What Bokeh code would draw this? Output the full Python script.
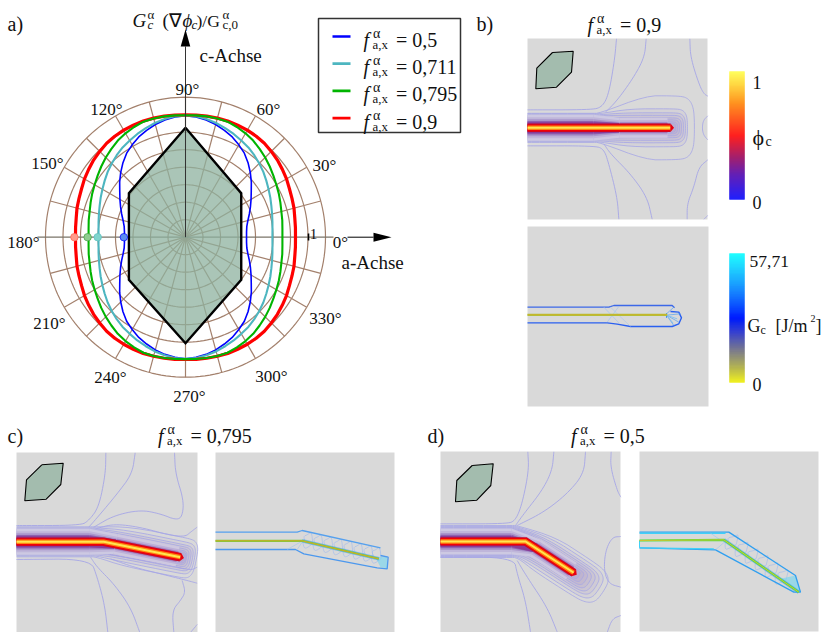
from bokeh.plotting import figure
from bokeh.embed import file_html
from bokeh.resources import INLINE
from bokeh.core.properties import value
from bokeh.models import Range1d
import numpy as np

# ---------- data ----------
angles_deg = [0,5,10,15,20,25,30,35,40,45,50,55,60,65,70,75,80,85,90]
r_05   = [.495,.497,.505,.524,.551,.581,.614,.651,.697,.743,.789,.832,.865,.897,.922,.946,.965,.978,.986]
r_0711 = [.705,.708,.716,.727,.741,.759,.778,.800,.824,.846,.868,.889,.905,.924,.941,.959,.973,.984,.986]
r_0795 = [.786,.789,.797,.805,.819,.835,.851,.870,.892,.914,.935,.957,.973,.986,.997,.997,.995,.992,.989]
r_09   = [.892,.895,.900,.911,.919,.930,.946,.959,.973,.984,.995,1.0,1.003,1.003,1.003,1.0,.997,.995,.992]
hex_x = [0,.452,.452,0,-.459,-.459]
hex_y = [.887,.357,-.345,-.86,-.345,.357]
legend_vals = ["= 0,5","= 0,711","= 0,795","= 0,9"]
angle_labels = [("90°",187,89),("120°",106,109),("60°",268,109),("150°",47,163),("30°",324,165),
                ("180°",23,242),("0°",340,242),("210°",49,323),("330°",325,318),("240°",110,377),
                ("300°",271,376),("270°",189,396)]
thumb_b = [(552,52),(572.7,50.7),(571,71.7),(556,86.7),(535.3,88.3),(536.3,67.7)]
thumb_c = [(41.3,464.3),(62.7,462.7),(60.3,484),(45.7,498.7),(24.3,500.3),(26,479.3)]
thumb_d = [(471.7,465),(492.7,463.3),(490.3,485),(476.3,499.7),(455,501.3),(456.3,480)]
phi_stops = [(0,(0,0,255)),(.2,(80,0,170)),(.33,(150,0,90)),(.5,(255,0,0)),(.75,(255,130,0)),(.9,(255,210,40)),(1,(255,255,70))]
gc_stops = [(0,(240,240,0)),(.12,(170,170,60)),(.25,(110,110,130)),(.38,(50,60,200)),(.5,(0,30,255)),(.72,(0,130,255)),(1,(0,255,255))]

b_contours = [
 [(378,115),(372,180),(355,280),(335,320),(300,328),(111,328)],
 [(467,115),(462,170),(430,230),(380,300),(345,335)],
 [(598,115),(600,170),(625,250),(640,280),(652,287)],
 [(652,346),(638,360),(635,385),(640,405),(652,418)],
 [(385,656),(380,590),(355,490),(340,445),(310,436),(111,436)],
 [(485,656),(470,590),(420,520),(360,460),(340,430)],
 [(590,656),(590,610),(610,560),(625,500),(652,478)],
 [(640,656),(652,645)],
]
c_contours = [
 [(316,127),(315,190),(295,290),(265,330),(240,345),(48,345)],
 [(404,127),(395,190),(350,250),(300,310),(265,350)],
 [(522,127),(525,190),(550,270),(545,320),(525,328),(480,310),(420,298),(340,315),(280,350)],
 [(590,350),(570,365),(555,378),(510,375),(420,350),(340,340),(285,355)],
 [(322,666),(312,580),(290,500),(270,445),(48,447)],
 [(418,666),(390,590),(340,520),(290,470),(270,440)],
 [(590,518),(560,510),(480,490),(400,470),(330,445)],
 [(590,470),(570,480),(490,460),(400,445),(320,430)],
 [(520,666),(515,600),(540,570),(555,545),(545,510)],
 [(570,666),(590,642)],
]
d_contours = [
 [(322,124),(325,180),(305,280),(285,330),(260,340),(60,340)],
 [(400,124),(395,180),(365,240),(310,310),(285,345)],
 [(495,124),(490,190),(440,250),(370,305),(290,345)],
 [(572,124),(570,170),(590,240),(601,260)],
 [(601,378),(575,380),(555,420),(550,480),(565,520),(601,530)],
 [(601,615),(575,625),(560,666)],
 [(330,664),(315,570),(290,490),(280,440),(60,440)],
 [(410,664),(380,590),(320,500),(290,450)],
]
# crack paths: start, kink, tip
crack_b = [(527,127.3),(607,127.3),(670,127.3)]
crack_c = [(16,541.3),(103.3,541.3),(180,556.7)]
crack_d = [(440,541),(525,541),(573.3,572.3)]
# contour levels: half width left, half width right, extent past the tip
levels_b = [(14.5,32,24),(14,19,17),(13,15,15),(12,12.5,13),(11,10,11),(10,8,9),(9,6,7),(8,4.5,5)]
levels_c = [(15,20,16),(14,16,14),(13,13,12),(12,11,10),(11,9,8),(10,7,6),(9,5.5,5),(8,4,3.5)]
levels_d = [(16,20,35),(15,17,30),(14,14,26),(13,12,22),(12,10,18),(11,8,14),(10,6,10),(9,4.5,6)]

gc_b_lines = [
 ([(111,920),(355,920),(370,915),(545,915),(552,922)],"#3c68e8",1.3),
 ([(111,967),(350,967),(380,971),(420,978),(545,978),(565,970),(573,952),(565,935),(540,933)],"#2a60f0",1.4),
 ([(340,920),(385,967)],"#a6c4ee",.7),([(385,918),(350,965)],"#a6c4ee",.7),([(360,920),(420,978)],"#a6c4ee",.6),
 ([(528,940),(550,920)],"#55a0f0",.7),([(528,944),(570,940)],"#55a0f0",.7),([(528,944),(565,965)],"#55a0f0",.7),
 ([(528,944),(550,975)],"#55a0f0",.7),([(528,944),(560,955)],"#7fc0f0",.9),([(528,944),(548,968)],"#7fc0f0",.9),
 ([(528,938),(528,952)],"#4090f0",1.0),
]
gc_b_center = [(111,943),(530,943)]
gc_c_lines = [
 ([(645,365),(890,365),(905,360),(1140,412)],"#55a0ee",1.3),
 ([(645,417),(885,417),(910,430),(1130,472),(1160,475),(1163,440),(1140,435)],"#4c98ee",1.3),
 ([(890,417),(905,395)],"#9cc4ee",.6),([(860,417),(905,392)],"#9cc4ee",.6),
]
gc_c_center = [(645,391),(905,391),(1135,445)]
ripple_c = [(915,395),(945,402),(975,408),(1005,415),(1035,421),(1065,428),(1095,434),(1120,440)]
gc_d_lines = [
 ([(657,365),(925,365),(1125,495),(1140,545),(1120,545),(885,418),(657,412)],"#2f9ff0",1.3),
 ([(657,368),(915,368)],"#40d0f8",1.5),([(657,412),(880,415)],"#40d0f8",1.2),
 ([(657,390),(657,412)],"#40d0f8",1.0),
 ([(885,418),(915,392)],"#9cc4ee",.6),([(870,368),(905,392)],"#9cc4ee",.6),
]
gc_d_center = [(657,390),(910,388),(1135,545)]
gc_d_tip = [(1080,505),(1125,495),(1140,545),(1115,535)]
gc_c_tip = [(1125,440),(1160,438),(1160,473),(1140,470)]
ripple_d = [(925,398),(955,420),(985,440),(1015,460),(1045,482),(1075,503)]

RED="#ff0000"; GREEN="#00b400"; CYAN="#4db6c0"; BLUE="#0000ff"; BROWN="#a3806c"; FONT=value("Liberation Serif")

p = figure(width=829,height=632,x_range=Range1d(0,829),y_range=Range1d(632,0),
           output_backend="svg",toolbar_location=None,min_border=0)
p.axis.visible=False; p.grid.visible=False; p.outline_line_color=None; p.background_fill_color="white"

def T(x,y,s,size=19,style="normal",align="left"):
    p.text([x],[y],text=[s],text_font=FONT,text_font_size=f"{size}px",text_font_style=style,
           text_align=align,text_baseline="alphabetic",text_color="#111111")

# ---------- panel a ----------
CX,CY,UNIT=185,236.7,123.3
th=np.linspace(0,2*np.pi,181)
for k in range(1,9):
    rr=17.5*k
    p.line(CX+rr*np.cos(th),CY+rr*np.sin(th),line_color=BROWN,line_width=1.2)
for a in range(0,360,15):
    if a%180==0: continue
    t=np.radians(a)
    p.line([CX,CX+140*np.cos(t)],[CY,CY+140*np.sin(t)],line_color=BROWN,line_width=1.2)
p.line([37,333],[CY,CY],line_color="#7a7468",line_width=1.3)
hx=[CX+v*UNIT for v in hex_x]; hy=[CY-v*UNIT for v in hex_y]
p.patch(hx,hy,fill_color="#8eb29f",fill_alpha=.75,line_color=None)
p.line(hx+hx[:1],hy+hy[:1],line_color="black",line_width=2.4,line_join="miter")

def curve(r):
    a=np.array(angles_deg,float); r=np.array(r)
    A=np.concatenate([a,180-a[::-1],180+a,360-a[::-1]])
    R=np.concatenate([r,r[::-1],r,r[::-1]])
    t=np.radians(A)
    return CX+UNIT*R*np.cos(t), CY-UNIT*R*np.sin(t)
for r,c,w in [(r_05,BLUE,1.6),(r_0711,CYAN,2.1),(r_09,RED,3.2),(r_0795,GREEN,2.1)]:
    x,y=curve(r); p.line(x,y,line_color=c,line_width=w,line_join="round")
for r,c,f in [(r_05,BLUE,"#5c8cf0"),(r_0711,"#5bc0c0","#80d4cc"),(r_0795,"#40a040","#90cc90"),(r_09,"#ff6655","#ff9c8c")]:
    p.scatter([CX-UNIT*r[0]*1.01],[CY],size=7.5,fill_color=f,line_color=c,line_width=.7)
p.line([308,308],[233,240],line_color="black",line_width=1.6)
p.line([CX,CX],[CY,46],line_color="#333333",line_width=1)
p.patch([CX,CX-4.8,CX+4.8],[29,46,46],fill_color="black",line_color=None)
p.line([347,373],[CY,CY],line_color="black",line_width=1)
p.patch([391,373,373],[CY,CY-4.5,CY+4.5],fill_color="black",line_color=None)
for s,x,y in angle_labels: T(x,y,s,17,align="center")
T(313,233,"1",15,align="center")
T(199,54.5,"c-Achse",19); T(341,262,"a-Achse",19)
T(7,23,"a)",20); T(476,23,"b)",20); T(7,435,"c)",20); T(427,435,"d)",20)
# axis title
T(132,20,"G",19,"italic"); T(147,13.5,"α",13); T(147,23.5,"c",13,"italic")
T(162,20,"(∇",19); T(182,20,"ϕ",19,"italic"); T(191,23.5,"c",13,"italic")
T(196,20,")/G",17.6); T(222,13.5,"α",13); T(222,23.5,"c,0",13)

def formula(x,y,val):
    T(x,y,"f",20,"italic"); T(x+9.5,y-6.5,"α",14); T(x+9,y+5,"a,x",12.8); T(x+32.5,y,val,20)
# legend
p.quad(left=[318],right=[460],top=[18],bottom=[132],fill_color="white",line_color="#333333",line_width=1.5)
for i,(v,c) in enumerate(zip(legend_vals,[BLUE,CYAN,GREEN,RED])):
    yy=36+27.2*i
    p.line([332,350],[yy,yy],line_color=c,line_width=2.7)
    formula(363,39.5+27.2*i,v)
formula(587,24,"= 0,9"); formula(157.5,435,"= 0,795"); formula(570.5,435,"= 0,5")

# ---------- panels ----------
def Z2(P): return [(490+x/3,y/3) for x,y in P]
def Z3(P): return [(x/3,410+y/3) for x,y in P]
def Z4(P): return [(420+x/3,410+y/3) for x,y in P]
def smooth(P,n=3):
    P=np.array(P,float)
    for _ in range(n):
        Q=[P[0]]
        for a,b in zip(P[:-1],P[1:]):
            Q+= [a*.75+b*.25,a*.25+b*.75]
        Q.append(P[-1]); P=np.array(Q)
    return P[:,0],P[:,1]
def rect(x0,x1,y0,y1):
    p.quad(left=[x0],right=[x1],top=[y0],bottom=[y1],fill_color="#d9d9d9",line_color=None)
for r in [(527,707,38,219),(527,708,226,406),(16,197,452,632),(215,394,452,632),(440,620,451,632),(639,818,451,631)]:
    rect(*r)
def contours(L,Z):
    for c in L:
        x,y=smooth(Z(c)); p.line(x,y,line_color="#a6a6e6",line_width=.9)
def level_path(cr,hl,hr,ext):
    P0,K,Tp=[np.array(q,float) for q in cr]
    d=(Tp-K)/np.linalg.norm(Tp-K); n=np.array([d[1],-d[0]])
    up=[P0+[0,-hl],K+[-16,-hl],K+[-8,-hl],K+n*hr+d*(hr*1.2),Tp+n*hr]
    t=np.radians(np.arange(15,166,15))
    cap=[Tp+d*ext*np.sin(a)**.5+n*hr*np.sign(np.cos(a))*abs(np.cos(a))**.6 for a in t]
    low=[Tp-n*hr,K-n*hr+d*(hr*1.2),K+[-8,hl],K+[-16,hl],P0+[0,hl]]
    return smooth(up+cap+low,2)
def crack(cr,levels):
    for hl,hr,ext in levels[1:]:
        x,y=level_path(cr,hl,hr,ext)
        p.patch(x,y,fill_color="#6a50b4",fill_alpha=.045,line_color=None)
    for hl,hr,ext in levels:
        x,y=level_path(cr,hl,hr,ext)
        p.line(x,y,line_color="#a6a6e6",line_width=.8)
    P0,K,Tp=[np.array(q,float) for q in cr]
    d=(Tp-K)/np.linalg.norm(Tp-K); n=np.array([d[1],-d[0]])
    left=[(26,"#cdc9e2",20),(21,"#bfb6da",15),(17,"#aa96cc",11.5),(13.5,"#8d62b0",9.6),(11,"#8a3a96",9.6)]
    right=[(20,"#cec8e0"),(15,"#bdb0d8"),(11.5,"#a68cc8"),(9.6,"#a85a9c")]
    # wide band on the uncracked side, narrowing over the kink
    A=K+[-14,0]; B=K+d*12
    for w,c,wr in left:
        xs=[A[0]+0,B[0]+n[0]*wr/2,B[0]-n[0]*wr/2,A[0]]
        ys=[A[1]-w/2,B[1]+n[1]*wr/2,B[1]-n[1]*wr/2,A[1]+w/2]
        p.patch(xs,ys,fill_color=c,line_color=None)
        p.line([P0[0],A[0]],[P0[1],A[1]],line_color=c,line_width=w,line_cap="butt")
    for w,c in right:
        E=Tp-d*3
        p.line([B[0],E[0]],[B[1],E[1]],line_color=c,line_width=w,line_cap="butt")
    xs=[q[0] for q in (P0,K,Tp)]; ys=[q[1] for q in (P0,K,Tp)]
    for w,c in [(8.6,"#c80a28"),(6.8,"#f20008"),(4.4,"#ff8410"),(1.9,"#ffe650")]:
        p.line(xs,ys,line_color=c,line_width=w,line_join="miter",line_cap="butt")
    W=[Tp+n*4.2,Tp+d*3.5,Tp-n*4.2]
    p.patch([q[0] for q in W],[q[1] for q in W],fill_color="#e80010",line_color=None)
def thumb(P):
    x=[q[0] for q in P]; y=[q[1] for q in P]
    p.patch(x,y,fill_color="#a3bcae",line_color=None)
    p.line(x+x[:1],y+y[:1],line_color="black",line_width=1.1)
def gcdraw(lines,center,Z,w=1.3,core="#e8a020",edge="#70d040",halo=False):
    for L,c,lw in lines:
        q=Z(L); p.line([a for a,b in q],[b for a,b in q],line_color=c,line_width=lw)
    q=Z(center); x=[a for a,b in q]; y=[b for a,b in q]
    if halo:
        p.line(x[1:],y[1:],line_color="#3f9cf0",line_width=3.6,line_alpha=.6)
    p.line(x,y,line_color=edge,line_width=w+.8)
    p.line(x,y,line_color=core,line_width=w-.4)
def ripples(R,Z,dx,dy):
    for x0,y0 in R:
        P=Z([(x0,y0),(x0-8+dx*.2,y0-12+dy*.2),(x0+dx*.8,y0+dy*.8),(x0+dx+10,y0+dy-4),(x0+22,y0+4)])
        x,y=smooth(P,2); p.line(x,y,line_color="#9db8ee",line_width=.6)
def tip(P,Z):
    q=Z(P); p.patch([a for a,b in q],[b for a,b in q],fill_color="#6fd6f2",fill_alpha=.6,line_color=None)

contours(b_contours,Z2); crack(crack_b,levels_b); thumb(thumb_b)
contours(c_contours,Z3); crack(crack_c,levels_c); thumb(thumb_c)
contours(d_contours,Z4); crack(crack_d,levels_d); thumb(thumb_d)
gcdraw(gc_b_lines,gc_b_center,Z2,core="#d8a820",edge="#a8c840")
ripples(ripple_c,Z3,8,-28); ripples(ripple_c,Z3,-6,22); tip(gc_c_tip,Z3); gcdraw(gc_c_lines,gc_c_center,Z3,halo=True)
ripples(ripple_d,Z4,20,-24); ripples(ripple_d,Z4,-14,22); tip(gc_d_tip,Z4); gcdraw(gc_d_lines,gc_d_center,Z4,core="#e0c030",edge="#50e040",halo=True)

# ---------- colour bars ----------
def cbar(stops,y0,y1,x0=729,x1=744,n=128):
    pos=[s[0] for s in stops]
    edges=np.linspace(y1,y0,n+1); cols=[]
    for i in range(n):
        f=(i+.5)/n
        rgb=[int(np.interp(f,pos,[s[1][k] for s in stops])) for k in range(3)]
        cols.append("#%02x%02x%02x"%tuple(rgb))
    p.quad(left=x0,right=x1,top=edges[1:],bottom=edges[:-1],fill_color=cols,line_color=cols,line_width=.3)
cbar(phi_stops,71,199); cbar(gc_stops,253,382)
T(752,82,"1",18); T(752,202,"0",18)
T(752,137,"ϕ",22); T(765,141,"c",14)
T(749,261,"57,71",17.5); T(752,384,"0",18)
T(747,325,"G",18); T(760,329,"c",12); T(775,325,"[J/m",18); T(810,318,"2",10); T(815,325,"]",18)

open("out.html","w").write(file_html(p,INLINE))
